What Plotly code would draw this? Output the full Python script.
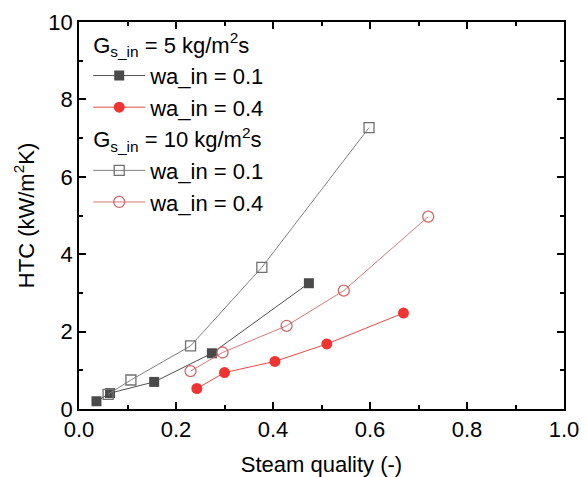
import plotly.graph_objects as go

# Data
x_g5_wa01 = [0.036, 0.064, 0.155, 0.274, 0.474]
y_g5_wa01 = [0.20, 0.41, 0.70, 1.44, 3.25]
x_g5_wa04 = [0.243, 0.300, 0.404, 0.511, 0.669]
y_g5_wa04 = [0.53, 0.94, 1.23, 1.68, 2.48]
x_g10_wa01 = [0.060, 0.107, 0.230, 0.377, 0.598]
y_g10_wa01 = [0.38, 0.75, 1.63, 3.66, 7.27]
x_g10_wa04 = [0.230, 0.296, 0.428, 0.546, 0.720]
y_g10_wa04 = [0.98, 1.46, 2.15, 3.06, 4.97]

FONT = "Liberation Sans, Arial, sans-serif"
FS = 22

fig = go.Figure()
fig.add_trace(go.Scatter(
    x=x_g5_wa01, y=y_g5_wa01, mode="lines+markers", name="wa_in = 0.1",
    legendgroup="g5", legendgrouptitle=dict(text="G<sub>s_in</sub> = 5 kg/m<sup>2</sup>s", font=dict(size=FS, color="black", family=FONT)),
    line=dict(color="#505050", width=1),
    marker=dict(symbol="square", size=10, color="#4a4a4a", line=dict(width=0))))
fig.add_trace(go.Scatter(
    x=x_g5_wa04, y=y_g5_wa04, mode="lines+markers", name="wa_in = 0.4",
    legendgroup="g5",
    line=dict(color="#e84a4a", width=1),
    marker=dict(symbol="circle", size=11, color="#f03434", line=dict(width=0))))
fig.add_trace(go.Scatter(
    x=x_g10_wa01, y=y_g10_wa01, mode="lines+markers", name="wa_in = 0.1",
    legendgroup="g10", legendgrouptitle=dict(text="G<sub>s_in</sub> = 10 kg/m<sup>2</sup>s", font=dict(size=FS, color="black", family=FONT)),
    line=dict(color="#808080", width=1),
    marker=dict(symbol="square-open", size=10, color="#707070", line=dict(width=1.3))))
fig.add_trace(go.Scatter(
    x=x_g10_wa04, y=y_g10_wa04, mode="lines+markers", name="wa_in = 0.4",
    legendgroup="g10",
    line=dict(color="#d87878", width=1),
    marker=dict(symbol="circle-open", size=11, color="#d06868", line=dict(width=1.3))))

axis_common = dict(
    showline=True, linecolor="black", linewidth=1.5, mirror="allticks",
    ticks="inside", ticklen=7, tickwidth=1.5, tickcolor="black",
    showgrid=False, zeroline=False, automargin=False,
    tickfont=dict(size=FS, color="black", family=FONT),
)

fig.update_layout(
    width=579, height=469,
    margin=dict(l=71, r=23, t=14, b=68),
    paper_bgcolor="white", plot_bgcolor="white",
    font=dict(family=FONT, size=FS, color="black"),
    xaxis=dict(range=[0, 1.0], dtick=0.2, tickformat=".1f",
               minor=dict(dtick=0.1, ticks="inside", ticklen=4, tickwidth=1.5, tickcolor="black"),
               title=dict(text="Steam quality (-)", font=dict(size=FS, family=FONT), standoff=16),
               **axis_common),
    yaxis=dict(range=[0, 10], dtick=2,
               minor=dict(dtick=1, ticks="inside", ticklen=4, tickwidth=1.5, tickcolor="black"),
               title=dict(text="HTC (kW/m<sup>2</sup>K)", font=dict(size=FS, family=FONT), standoff=8),
               **axis_common),
    legend=dict(x=0.019, y=0.997, xanchor="left", yanchor="top",
                bgcolor="rgba(0,0,0,0)", tracegroupgap=0,
                font=dict(size=FS, family=FONT, color="black"),
                itemwidth=52),
    showlegend=True,
)

fig.write_html("out.html")
